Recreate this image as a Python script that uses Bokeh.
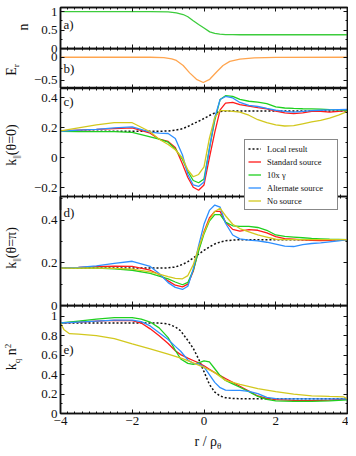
import numpy as np
from bokeh.plotting import figure
from bokeh.models import (FixedTicker, LinearAxis, Range1d, Label, Legend, LegendItem,
                          CustomJSTickFormatter, Div)
from bokeh.layouts import column
from bokeh.embed import file_html
from bokeh.resources import INLINE

FONT = "Liberation Serif"

# ---------------- data ----------------
# panel a: density n
r_a = [-4, -1.5, -1.0, -0.77, -0.58, -0.45, -0.3, -0.15, 0.0, 0.16, 0.3, 0.44, 0.6, 0.8, 1.0, 4]
n_a = [1.0, 1.0, 0.99, 0.965, 0.92, 0.86, 0.75, 0.65, 0.556, 0.45, 0.41, 0.39, 0.378, 0.373, 0.372, 0.372]

# panel b: E_r
r_b = [-4, -1.5, -1.12, -0.9, -0.77, -0.58, -0.4, -0.21, -0.02, 0.16, 0.35, 0.53, 0.72, 1.0, 1.4, 2.0, 4]
E_b = [0.0, 0.0, -0.01, -0.035, -0.07, -0.18, -0.34, -0.48, -0.55, -0.48, -0.32, -0.18, -0.09, -0.04, -0.015, -0.005, 0.0]

# panels c,d: common radial grid
r_cd = [-4, -3.5, -3, -2.5, -2, -1.5, -1.25, -1, -0.8, -0.6, -0.45, -0.3, -0.15, 0, 0.15, 0.3, 0.45,
        0.6, 0.8, 1.0, 1.25, 1.5, 1.75, 2, 2.25, 2.5, 2.75, 3, 3.25, 3.5, 3.75, 4]

# panel c: k_par(theta=0)
c_local = [0.178, 0.178, 0.178, 0.178, 0.178, 0.178, 0.178, 0.18, 0.185, 0.195, 0.21, 0.228, 0.245,
           0.263, 0.283, 0.3, 0.31, 0.313, 0.313, 0.313, 0.313, 0.313, 0.313, 0.313, 0.313, 0.313,
           0.313, 0.313, 0.313, 0.313, 0.313, 0.313]
c_std = [0.18, 0.185, 0.19, 0.196, 0.2, 0.165, 0.125, 0.11, 0.07, -0.04, -0.13, -0.195, -0.215,
         -0.18, 0.0, 0.17, 0.32, 0.365, 0.37, 0.355, 0.345, 0.335, 0.328, 0.313, 0.3, 0.295, 0.3,
         0.31, 0.31, 0.305, 0.31, 0.318]
c_gam = [0.178, 0.176, 0.175, 0.175, 0.17, 0.14, 0.125, 0.105, 0.06, -0.01, -0.09, -0.15, -0.165,
         -0.14, 0.06, 0.25, 0.39, 0.415, 0.41, 0.39, 0.378, 0.372, 0.362, 0.34, 0.333, 0.33, 0.328,
         0.327, 0.325, 0.322, 0.32, 0.318]
c_alt = [0.178, 0.185, 0.19, 0.2, 0.207, 0.172, 0.165, 0.163, 0.13, 0.02, -0.11, -0.18, -0.19,
         -0.16, 0.06, 0.27, 0.39, 0.41, 0.4, 0.37, 0.35, 0.343, 0.33, 0.318, 0.31, 0.305, 0.31,
         0.315, 0.318, 0.32, 0.322, 0.323]
c_none = [0.18, 0.2, 0.22, 0.235, 0.235, 0.175, 0.125, 0.09, 0.055, 0.0, -0.08, -0.125, -0.11,
          -0.06, 0.13, 0.27, 0.315, 0.315, 0.31, 0.305, 0.285, 0.255, 0.235, 0.22, 0.213, 0.215,
          0.228, 0.24, 0.25, 0.265, 0.285, 0.31]

# panel d: k_par(theta=pi)
d_local = [0.175, 0.175, 0.175, 0.175, 0.175, 0.175, 0.175, 0.176, 0.18, 0.192, 0.205, 0.222, 0.24,
           0.258, 0.274, 0.288, 0.297, 0.303, 0.306, 0.308, 0.308, 0.308, 0.308, 0.308, 0.308,
           0.308, 0.308, 0.308, 0.308, 0.308, 0.308, 0.308]
d_std = [0.175, 0.178, 0.182, 0.184, 0.183, 0.165, 0.145, 0.115, 0.095, 0.087, 0.1, 0.16, 0.26,
         0.345, 0.41, 0.44, 0.44, 0.39, 0.356, 0.348, 0.355, 0.352, 0.34, 0.322, 0.313, 0.31,
         0.307, 0.305, 0.304, 0.305, 0.307, 0.308]
d_gam = [0.175, 0.175, 0.175, 0.172, 0.165, 0.15, 0.138, 0.125, 0.11, 0.097, 0.108, 0.165, 0.255,
         0.335, 0.395, 0.425, 0.425, 0.39, 0.373, 0.37, 0.37, 0.365, 0.352, 0.33, 0.323, 0.32,
         0.317, 0.314, 0.312, 0.31, 0.309, 0.308]
d_alt = [0.175, 0.178, 0.185, 0.197, 0.207, 0.183, 0.15, 0.107, 0.085, 0.075, 0.09, 0.17, 0.28,
         0.38, 0.445, 0.47, 0.46, 0.385, 0.33, 0.312, 0.306, 0.302, 0.296, 0.287, 0.278, 0.276,
         0.285, 0.29, 0.293, 0.298, 0.303, 0.308]
d_none = [0.175, 0.175, 0.175, 0.174, 0.17, 0.157, 0.147, 0.135, 0.127, 0.125, 0.14, 0.19, 0.27,
          0.34, 0.4, 0.44, 0.455, 0.42, 0.38, 0.36, 0.345, 0.33, 0.32, 0.31, 0.308, 0.308, 0.308,
          0.308, 0.308, 0.308, 0.308, 0.308]

# panel e: k_q n^2
r_e = [-4, -3.5, -3, -2.5, -2, -1.75, -1.5, -1.25, -1, -0.8, -0.65, -0.45, -0.3, -0.15, 0, 0.15,
       0.3, 0.45, 0.6, 0.8, 1.0, 1.25, 1.5, 1.75, 2, 2.5, 3, 3.5, 4]
e_local = [0.93, 0.93, 0.93, 0.93, 0.93, 0.93, 0.93, 0.93, 0.92, 0.89, 0.85, 0.75, 0.67, 0.56, 0.43,
           0.3, 0.22, 0.18, 0.162, 0.155, 0.152, 0.152, 0.152, 0.152, 0.152, 0.152, 0.152, 0.152,
           0.152]
e_std = [0.93, 0.94, 0.95, 0.958, 0.955, 0.93, 0.87, 0.8, 0.72, 0.645, 0.605, 0.57, 0.545, 0.52,
         0.49, 0.455, 0.42, 0.39, 0.36, 0.32, 0.28, 0.23, 0.18, 0.155, 0.142, 0.135, 0.132, 0.138,
         0.148]
e_gam = [0.93, 0.95, 0.97, 0.985, 0.985, 0.97, 0.94, 0.88, 0.78, 0.65, 0.56, 0.515, 0.505, 0.52,
         0.54, 0.53, 0.46, 0.39, 0.34, 0.305, 0.27, 0.225, 0.175, 0.145, 0.13, 0.124, 0.124, 0.13,
         0.14]
e_alt = [0.93, 0.94, 0.95, 0.96, 0.96, 0.945, 0.9, 0.83, 0.76, 0.69, 0.64, 0.55, 0.515, 0.51,
         0.48, 0.4, 0.32, 0.265, 0.24, 0.237, 0.237, 0.228, 0.205, 0.165, 0.152, 0.15, 0.15, 0.15,
         0.15]
r_e_none = [-4, -3.9, -3.75, -3.5, -3, -2.5, -2, -1.5, -1, -0.6, -0.3, 0, 0.3, 0.6, 1.0, 1.5, 2,
            2.5, 3, 3.5, 3.9, 4]
e_none = [0.93, 0.86, 0.82, 0.815, 0.8, 0.77, 0.715, 0.665, 0.61, 0.565, 0.52, 0.475, 0.42, 0.34,
          0.3, 0.255, 0.225, 0.2, 0.182, 0.175, 0.17, 0.15]

# ticks / labels
x_major = [-4, -2, 0, 2, 4]
x_minor = [round(v, 1) for v in np.arange(-4, 4.01, 0.2)]
legend_labels = ["Local result", "Standard source", "10x \u03b3", "Alternate source", "No source"]

C_RED = "#ff1a1a"
C_GREEN = "#1fd01f"
C_BLUE = "#2e8fff"
C_YEL = "#d2c81e"
C_ORANGE = "#ffa54f"
C_AGREEN = "#3ccc3c"
INK = "#111111"

fmt = CustomJSTickFormatter(code="""
    const v = Math.round(tick*100)/100;
    if (v === 0) return '0';
    return (v < 0 ? '\u2212' : '') + Math.abs(v).toString();
""")


def add_axis(p, loc, major, minor, labels, tick_out=0):
    ax = LinearAxis(ticker=FixedTicker(ticks=major, minor_ticks=minor), formatter=fmt)
    ax.major_tick_in = 4
    ax.major_tick_out = tick_out
    ax.minor_tick_in = 2
    ax.minor_tick_out = 2 if tick_out else 0
    ax.axis_line_color = INK
    ax.axis_line_width = 1.5
    ax.major_tick_line_color = INK
    ax.minor_tick_line_color = INK
    if labels:
        ax.major_label_text_font = FONT
        ax.major_label_text_font_size = "13px"
        ax.major_label_text_color = INK
        ax.major_label_standoff = 3
    else:
        # mirrored axis: ticks only, no labels drawn
        ax.major_label_text_color = None
        ax.major_label_text_font_size = "1px"
        ax.major_label_standoff = 0
    p.add_layout(ax, loc)
    return ax


def make_fig(height, yr, ymajor, yminor, top=0, bottom=0, margin=None, below=True,
             below_labels=False, above_out=0, styles=None, outline=True):
    kw = {}
    if margin is not None:
        kw["margin"] = margin
    if styles is not None:
        kw["styles"] = styles
    p = figure(width=348, height=height, x_range=Range1d(-4, 4), y_range=Range1d(*yr),
               output_backend="svg", toolbar_location=None,
               min_border_left=60, min_border_right=1, min_border_top=top, min_border_bottom=bottom,
               x_axis_location=None, y_axis_location=None, **kw)
    p.grid.visible = False
    p.outline_line_color = INK if outline else None
    p.outline_line_width = 1.5
    p.background_fill_color = None
    p.border_fill_color = None
    if below:
        add_axis(p, "below", x_major, x_minor, below_labels)
    add_axis(p, "above", x_major, x_minor, False, tick_out=above_out)
    add_axis(p, "left", ymajor, yminor, True)
    add_axis(p, "right", ymajor, yminor, False)
    return p


def tag(p, s, y, yo):
    p.add_layout(Label(x=-4, y=y, x_offset=3, y_offset=yo, text=s, text_font=FONT,
                       text_font_size="13px", text_color=INK, text_baseline="alphabetic"))


def series(p, xs, ys, color, dash=False):
    if dash:
        return p.line(xs, ys, color=INK, line_width=1.5, line_dash="2 2")
    return p.line(xs, ys, color=color, line_width=1.3)


# ---- panel a ---- frame 7..48
pa = make_fig(54, (0, 1.11), [0, 0.5, 1], [0.25, 0.75], top=7, bottom=6)
pa.line(r_a, n_a, color=C_AGREEN, line_width=1.3)
tag(pa, "a)", 1.11, -17)

# ---- panel b ---- frame 48..88
pb = make_fig(40, (-0.68, 0.19), [-0.5, 0], [-0.25], margin=(-6, 0, 0, 0))
pb.line(r_b, E_b, color=C_ORANGE, line_width=1.3)
tag(pb, "b)", 0.19, -20)

# ---- panel c ---- frame 88..210 (lower 14 px lie under panel d, legend overlaps there)
pc = make_fig(122, (-0.35, 0.463), [-0.2, 0, 0.2, 0.4], [-0.1, 0.1, 0.3], below=False,
              outline=False, styles={"z-index": "1"})
rc = [series(pc, r_cd, c_local, None, dash=True),
      series(pc, r_cd, c_std, C_RED),
      series(pc, r_cd, c_gam, C_GREEN),
      series(pc, r_cd, c_alt, C_BLUE),
      series(pc, r_cd, c_none, C_YEL)]
tag(pc, "c)", 0.463, -13)

legend = Legend(items=[LegendItem(label=l, renderers=[r]) for l, r in zip(legend_labels, rc)],
                location=(184, 0))
legend.label_text_font = FONT
legend.label_text_font_size = "8.5px"
legend.label_text_color = INK
legend.label_height = 11
legend.glyph_height = 11
legend.glyph_width = 13
legend.label_width = 67
legend.label_standoff = 6
legend.spacing = 2
legend.padding = 3
legend.margin = 0
legend.border_line_color = INK
legend.border_line_width = 1.5
legend.background_fill_color = "white"
legend.background_fill_alpha = 1.0
pc.add_layout(legend)

# ---- panel d ---- frame 196..305
pd = make_fig(120, (0, 0.51), [0, 0.2, 0.4], [0.1, 0.3, 0.5], top=5, bottom=6,
              margin=(-19, 0, 0, 0), above_out=4)
series(pd, r_cd, d_local, None, dash=True)
series(pd, r_cd, d_std, C_RED)
series(pd, r_cd, d_gam, C_GREEN)
series(pd, r_cd, d_alt, C_BLUE)
series(pd, r_cd, d_none, C_YEL)
tag(pd, "d)", 0.51, -16)

# ---- panel e ---- frame 305..413
pe = make_fig(148, (0, 1.11), [0, 0.2, 0.4, 0.6, 0.8, 1.0], [0.1, 0.3, 0.5, 0.7, 0.9],
              bottom=40, below_labels=True, margin=(-6, 0, 0, 0))
series(pe, r_e, e_local, None, dash=True)
series(pe, r_e, e_std, C_RED)
series(pe, r_e, e_gam, C_GREEN)
series(pe, r_e, e_alt, C_BLUE)
series(pe, r_e_none, e_none, C_YEL)
tag(pe, "e)", 1.11, -44)

# ---- axis titles (HTML text overlay, real text with sub/superscripts) ----
def vlabel(html, cx, cy):
    return ('<div style="position:absolute;left:%dpx;top:%dpx;'
            'transform:translate(-50%%,-50%%) rotate(-90deg);white-space:nowrap;'
            'font-size:14px;line-height:1;">%s</div>' % (cx, cy, html))


def hlabel(html, cx, cy):
    return ('<div style="position:absolute;left:%dpx;top:%dpx;'
            'transform:translate(-50%%,-50%%);white-space:nowrap;'
            'font-size:14px;line-height:1;">%s</div>' % (cx, cy, html))


SUB = '<sub style="font-size:9px;">%s</sub>'
SUP = '<sup style="font-size:9px;">%s</sup>'
titles = [
    vlabel("n", 24, 27),
    vlabel("E" + SUB % "r", 13, 70),
    vlabel("k" + SUB % "||" + "(\u03b8=0)", 13, 145),
    vlabel("k" + SUB % "||" + "(\u03b8=\u03c0)", 13, 248),
    vlabel("k" + SUB % "q" + " n" + SUP % "2", 13, 357),
    hlabel("r / \u03c1" + SUB % "\u03b8", 208, 443),
]
overlay = Div(text='<div style="position:relative;width:348px;height:453px;'
                   'font-family:\'Liberation Serif\',serif;color:#111111;">' + "".join(titles) + '</div>',
              width=348, height=453, margin=(-453, 0, 0, 0),
              styles={"z-index": "2", "pointer-events": "none"})

layout = column(pa, pb, pc, pd, pe, overlay, spacing=0)
open("out.html", "w").write(file_html(layout, INLINE))
